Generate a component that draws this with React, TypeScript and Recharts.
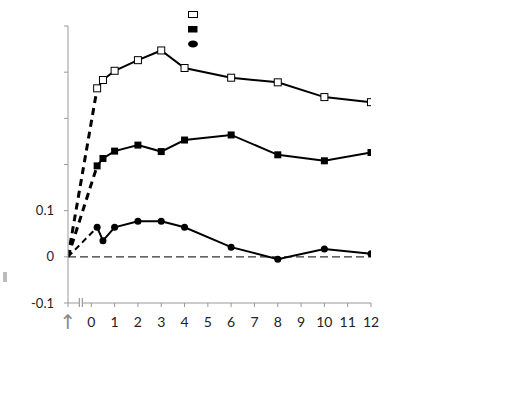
import { Line, LineChart, ReferenceDot, ReferenceLine, XAxis, YAxis } from "recharts"

// time points (x) and the three series
const times = [0.25, 0.5, 1, 2, 3, 4, 6, 8, 10, 12]
const openSquare = [0.365, 0.383, 0.403, 0.426, 0.447, 0.409, 0.388, 0.378, 0.346, 0.335]
const filledSquare = [0.197, 0.213, 0.229, 0.242, 0.228, 0.253, 0.264, 0.221, 0.208, 0.226]
const circle = [0.064, 0.035, 0.064, 0.077, 0.077, 0.064, 0.021, -0.005, 0.017, 0.0065]

const xTicks = [-1, 0, 1, 2, 3, 4, 5, 6, 7, 8, 9, 10, 11, 12]
const yTicks = [-0.1, 0, 0.1, 0.2, 0.3, 0.4, 0.5]
const yLabels: Record<string, string> = { "-0.1": "-0.1", "0": "0", "0.1": "0.1" }

const origin = { x: -1, y: 0 }

const data = times.map((t, i) => ({ x: t, open: openSquare[i], filled: filledSquare[i], circ: circle[i] }))
const openLead = [{ x: origin.x, v: origin.y }, { x: times[0], v: openSquare[0] }]
const filledLead = [{ x: origin.x, v: origin.y }, { x: times[0], v: filledSquare[0] }]
const circleLead = [{ x: origin.x, v: origin.y }, { x: times[0], v: circle[0] }]

const font = "Lato, 'Open Sans', sans-serif"

const OpenDot = (p: any) => (
  <rect x={p.cx - 3.5} y={p.cy - 3.5} width={7} height={7} fill="#fff" stroke="#000" strokeWidth={1} />
)
const FilledDot = (p: any) => <rect x={p.cx - 3.5} y={p.cy - 3.5} width={7} height={7} fill="#000" />
const CircleDot = (p: any) => <circle cx={p.cx} cy={p.cy} r={3.5} fill="#000" />

const XTick = (p: any) => {
  const v = p.payload.value
  if (v === -1) {
    return (
      <text x={p.x} y={p.y + 20} textAnchor="middle" fill="#888" fontSize={20} fontFamily="'DejaVu Sans', sans-serif">
        ↑
      </text>
    )
  }
  return (
    <text x={p.x} y={p.y + 18} textAnchor="middle" fill="#222" fontSize={14} fontFamily={font}>
      {v}
    </text>
  )
}

const YTick = (p: any) => {
  const label = yLabels[String(Math.round(p.payload.value * 10) / 10)]
  if (!label) return <g />
  return (
    <text x={p.x - 8} y={p.y + 4.5} textAnchor="end" fill="#222" fontSize={13} fontFamily={font}>
      {label}
    </text>
  )
}

// legend: symbols only, no labels
const LegendBox = () => (
  <svg width={20} height={46} style={{ position: "absolute", left: 186, top: 8 }}>
    <rect x={2.5} y={3.5} width={9} height={6} fill="#fff" stroke="#000" strokeWidth={1} />
    <rect x={2} y={18} width={9.5} height={6.5} fill="#000" />
    <ellipse cx={7} cy={36} rx={5} ry={3.5} fill="#000" />
  </svg>
)

export default function App() {
  return (
    <div style={{ position: "absolute", left: 0, top: 0, width: 529, height: 398, background: "#fff" }}>
      <LineChart width={529} height={398} margin={{ top: 26, right: 158, bottom: 65, left: 8 }}>
        <XAxis
          dataKey="x"
          type="number"
          domain={[-1, 12]}
          ticks={xTicks}
          allowDataOverflow
          stroke="#999"
          tickSize={4}
          tick={XTick}
          height={30}
        />
        <YAxis
          type="number"
          domain={[-0.1, 0.5]}
          ticks={yTicks}
          width={60}
          stroke="#999"
          tickSize={4}
          tick={YTick}
          label={{
            content: () => <rect x={3} y={272} width={4} height={10} fill="#bbb" />,
          }}
        />
        <ReferenceLine y={0} stroke="#333" strokeDasharray="8 4" strokeWidth={1.2} />
        <ReferenceDot
          x={-0.45}
          y={-0.1}
          shape={(p: any) => (
            <g stroke="#999" strokeWidth={1.2}>
              <rect x={p.cx - 2} y={p.cy - 2} width={4} height={4} fill="#fff" stroke="none" />
              <line x1={p.cx - 1.5} y1={p.cy - 5} x2={p.cx - 1.5} y2={p.cy + 4} />
              <line x1={p.cx + 1.5} y1={p.cy - 5} x2={p.cx + 1.5} y2={p.cy + 4} />
            </g>
          )}
        />
        <Line data={openLead} dataKey="v" stroke="#000" strokeWidth={3} strokeDasharray="7 5" dot={false} isAnimationActive={false} />
        <Line data={filledLead} dataKey="v" stroke="#000" strokeWidth={3} strokeDasharray="7 5" dot={false} isAnimationActive={false} />
        <Line data={circleLead} dataKey="v" stroke="#000" strokeWidth={2} strokeDasharray="6 4" dot={false} isAnimationActive={false} />
        <Line data={data} dataKey="open" stroke="#000" strokeWidth={2} dot={OpenDot} isAnimationActive={false} />
        <Line data={data} dataKey="filled" stroke="#000" strokeWidth={2} dot={FilledDot} isAnimationActive={false} />
        <Line data={data} dataKey="circ" stroke="#000" strokeWidth={2} dot={CircleDot} isAnimationActive={false} />
      </LineChart>
      <LegendBox />
    </div>
  )
}
